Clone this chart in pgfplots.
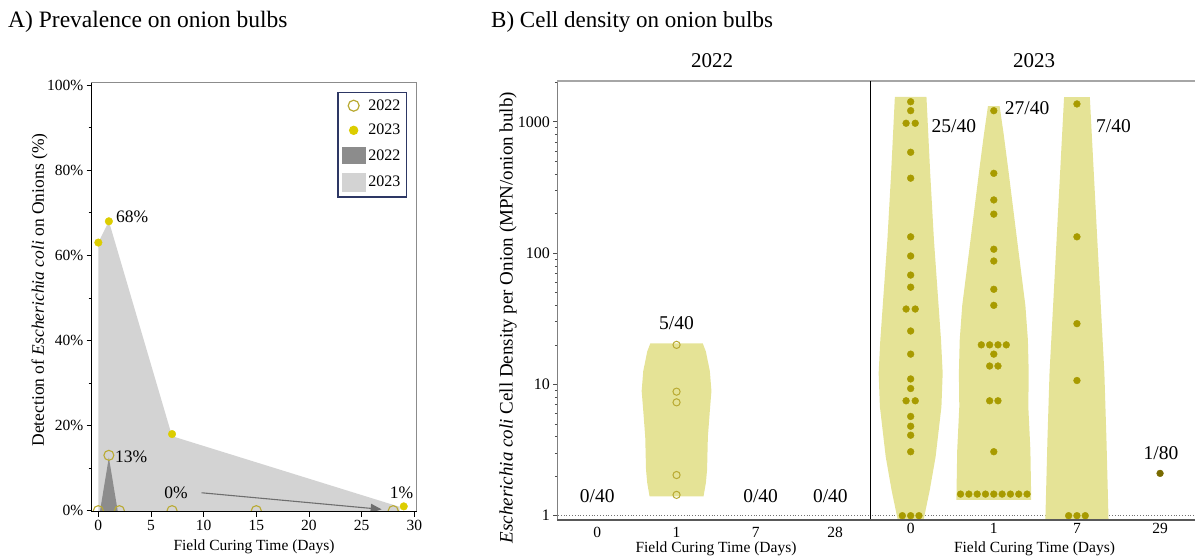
\documentclass[border=0pt]{standalone}
\usepackage{fontspec}
\setmainfont{Liberation Serif}
\usepackage{pgfplots}
\pgfplotsset{compat=1.18}
\usetikzlibrary{arrows.meta}

\definecolor{ptyellow}{RGB}{220,205,0}
\definecolor{ringgold}{RGB}{185,170,50}
\definecolor{areadark}{RGB}{140,140,140}
\definecolor{arealight}{RGB}{211,211,211}
\definecolor{arrowgray}{RGB}{110,110,110}
\definecolor{legendblue}{RGB}{45,55,100}
\definecolor{violin}{RGB}{229,227,150}
\definecolor{dotolive}{RGB}{168,155,0}
\definecolor{dotdark}{RGB}{120,106,0}
\definecolor{framegray}{RGB}{140,140,140}

\newcommand{\fsz}[1]{\fontsize{#1bp}{1.2\dimexpr#1bp\relax}\selectfont}

\begin{document}
\begin{tikzpicture}
\useasboundingbox (0,0) rectangle (1195bp,559bp);
\clip (0,0) rectangle (1195bp,559bp);

% ---------------- Panel A: prevalence ----------------
\begin{axis}[
  name=A, at={(91.7bp,47.3bp)}, anchor=south west,
  scale only axis, width=325bp, height=428.7bp,
  xmin=-0.63, xmax=30.23, ymin=-0.25, ymax=100.5,
  axis line style={draw=none},
  clip marker paths=true,
  tick align=outside, xtick pos=bottom, ytick pos=left,
  xtick={0,5,10,15,20,25,30}, xticklabels={0,5,10,15,20,25,30},
  ytick={0,20,40,60,80,100}, yticklabels={0\%,20\%,40\%,60\%,80\%,100\%},
  minor ytick={10,30,50,70,90},
  major tick length=5bp, minor tick length=3bp,
  every tick/.style={black, line width=0.6bp},
  tick label style={font=\fsz{15.5}},
  legend style={at={(0.970,0.979)}, anchor=north east, draw=legendblue,
    line width=1.3bp, fill=white, font=\fsz{16},
    inner xsep=4bp, inner ysep=5bp, row sep=8.5bp},
  legend cell align=left,
]
\addlegendimage{legend image code/.code={\draw[ringgold, line width=1.2bp] (11bp,0bp) circle (5.5bp);}}
\addlegendentry{2022}
\addlegendimage{legend image code/.code={\fill[ptyellow] (11bp,0bp) circle (4bp);}}
\addlegendentry{2023}
\addlegendimage{legend image code/.code={\fill[areadark] (0bp,-8bp) rectangle (23bp,8bp);}}
\addlegendentry{2022}
\addlegendimage{legend image code/.code={\fill[arealight] (0bp,-9bp) rectangle (23bp,9bp);}}
\addlegendentry{2023}
% 2023 prevalence envelope
\addplot[fill=arealight, draw=none, forget plot]
  coordinates {(0,-1) (0,63) (1,68) (7,17.5) (28.6,0.9) (28.6,-1) (0,-1)};
% 2022 prevalence envelope
\addplot[fill=areadark, draw=none, forget plot]
  coordinates {(0.1,-1) (1,12.5) (1.9,-1) (0.1,-1)};
\draw[arrowgray, line width=1.1bp, -{Triangle[length=11bp,width=9bp]}]
  (axis cs:9.8,4.2) -- (axis cs:26.9,0.3);
\addplot[only marks, mark=o, mark size=5bp, ringgold,
  mark options={line width=1.1bp}, forget plot]
  coordinates {(0,0) (1,13) (2,0) (7,0) (15,0) (28,0)};
\addplot[only marks, mark=*, mark size=3.8bp, ptyellow, forget plot]
  coordinates {(0,63) (1,68) (7,18) (29,1)};
\node[anchor=west, inner sep=0pt, font=\fsz{17.5}] at (axis cs:1.68,69.1) {68\%};
\node[anchor=west, inner sep=0pt, font=\fsz{17.5}] at (axis cs:1.58,12.7) {13\%};
\node[inner sep=0pt, font=\fsz{17.5}] at (axis cs:7.38,4.2) {0\%};
\node[inner sep=0pt, font=\fsz{17.5}] at (axis cs:28.8,4.3) {1\%};
\end{axis}
\draw[framegray, line width=1bp] (A.south west) rectangle (A.north east);
\draw[black, line width=0.8bp] (A.north west) -- (A.south west) -- (A.south east);

% ---------------- Panel B: 2022 ----------------
\begin{axis}[
  name=B1, at={(557.3bp,39bp)}, anchor=south west,
  scale only axis, width=312.7bp, height=439bp,
  xmin=-0.504, xmax=3.44, ymode=log, ymin=0.927, ymax=2045,
  axis line style={draw=none},
  tick align=outside, ytick pos=left, xtick pos=bottom,
  xtick={0,1,2,3}, xticklabels={0,1,7,28},
  major x tick style={draw=none},
  ytick={1,10,100,1000}, yticklabels={1,10,100,1000},
  minor ytick={2,3,4,5,6,7,8,9,20,30,40,50,60,70,80,90,200,300,400,500,600,700,800,900,2000},
  major tick length=4bp, minor tick length=2.5bp,
  every tick/.style={black!70, line width=0.6bp},
  yticklabel style={font=\fsz{16}},
  xticklabel style={font=\fsz{15.5}},
]
\draw[black!55, dotted, line width=0.8bp] (axis cs:-0.6,1) -- (axis cs:3.5,1);
\addplot[fill=violin, draw=none]
  coordinates {(0.66,1.40) (0.63,1.78) (0.615,2.24) (0.605,3.98) (0.58,6.31)
    (0.56,8.91) (0.58,12.6) (0.63,17.8) (0.67,20.56)
    (1.33,20.56) (1.37,17.8) (1.42,12.6) (1.44,8.91) (1.42,6.31)
    (1.395,3.98) (1.385,2.24) (1.37,1.78) (1.34,1.40) (0.66,1.40)};
\addplot[only marks, mark=o, mark size=3.6bp, ringgold, mark options={line width=1bp}]
  coordinates {(1,20) (1,8.8) (1,7.3) (1,2.04) (1,1.44)};
\node[font=\fsz{19.5}] at (axis cs:0,1.40) {0/40};
\node[font=\fsz{19.5}] at (axis cs:1,29.5) {5/40};
\node[font=\fsz{19.5}] at (axis cs:2.06,1.40) {0/40};
\node[font=\fsz{19.5}] at (axis cs:2.94,1.40) {0/40};
\end{axis}

% ---------------- Panel B: 2023 ----------------
\begin{axis}[
  name=B2, at={(870bp,39bp)}, anchor=south west,
  scale only axis, width=325bp, height=439bp,
  xmin=-0.489, xmax=3.42, ymode=log, ymin=0.927, ymax=2045,
  axis line style={draw=none},
  xtick pos=bottom,
  xtick={0,1,2,3}, xticklabels={0,1,7,29},
  major x tick style={draw=none},
  ymajorticks=false, yminorticks=false,
  xticklabel style={font=\fsz{15.5}},
]
\draw[black!55, dotted, line width=0.8bp] (axis cs:-0.6,1) -- (axis cs:3.5,1);
% day 0
\addplot[fill=violin, draw=none]
  coordinates {(-0.155,0.927) (-0.23,1.57) (-0.30,2.81) (-0.37,6.76) (-0.385,12.16)
    (-0.365,21.8) (-0.28,125.9) (-0.235,405.5) (-0.19,1549)
    (0.19,1549) (0.235,405.5) (0.28,125.9) (0.365,21.8) (0.385,12.16)
    (0.37,6.76) (0.30,2.81) (0.23,1.57) (0.155,0.927) (-0.155,0.927)};
% day 1
\addplot[fill=violin, draw=none]
  coordinates {(0.55,1.318) (0.56,3.162) (0.585,6.76) (0.58,12.16) (0.59,21.8)
    (0.62,39.8) (0.72,125.9) (0.82,405.5) (0.88,794) (0.93,1318)
    (1.07,1318) (1.12,794) (1.18,405.5) (1.28,125.9) (1.38,39.8)
    (1.41,21.8) (1.42,12.16) (1.415,6.76) (1.44,3.162) (1.45,1.318) (0.55,1.318)};
% day 7
\addplot[fill=violin, draw=none]
  coordinates {(1.62,0.927) (1.645,3.776) (1.67,12.16) (1.755,125.9) (1.845,1538)
    (2.155,1538) (2.245,125.9) (2.33,12.16) (2.355,3.776) (2.38,0.927) (1.62,0.927)};
% individual positive bulbs
\addplot[only marks, mark=*, mark size=3.4bp, dotolive]
  coordinates {
    (0,1422) (0,1216) (-0.055,975) (0.055,975) (0,586) (0,372) (0,133) (0,95)
    (0,68) (0,55) (-0.055,37.5) (0.055,37.5) (0,25.5) (0,17) (0,11) (0,9.3)
    (-0.055,7.5) (0.055,7.5) (0,5.7) (0,4.8) (0,4.1) (0,3.07)
    (-0.1,1) (0,1) (0.1,1)
    (1,1215) (1,405) (1,254) (1,198) (1,107) (1,87) (1,53) (1,40)
    (0.85,20) (0.95,20) (1.05,20) (1.15,20) (1,17) (0.95,13.8) (1.05,13.8)
    (0.95,7.5) (1.05,7.5) (1,3.07)
    (0.6,1.46) (0.7,1.46) (0.8,1.46) (0.9,1.46) (1,1.46) (1.1,1.46) (1.2,1.46) (1.3,1.46) (1.4,1.46)
    (2,1367) (2,133) (2,29) (2,10.7) (1.9,1) (2,1) (2.1,1)};
\addplot[only marks, mark=*, mark size=3.4bp, dotdark] coordinates {(3,2.1)};
\node[font=\fsz{19.5}] at (axis cs:0.52,929) {25/40};
\node[font=\fsz{19.5}] at (axis cs:1.40,1268) {27/40};
\node[font=\fsz{19.5}] at (axis cs:2.44,929) {7/40};
\node[font=\fsz{19.5}] at (axis cs:3.01,2.99) {1/80};
\end{axis}

% panel B frame
\draw[black!50, line width=1bp] (557.3bp,39bp) -- (557.3bp,478bp);
\draw[black!35, line width=1.2bp] (557.3bp,478bp) -- (1195bp,478bp);
\draw[black, line width=0.9bp] (870bp,39bp) -- (870bp,478bp);
\draw[black!65, line width=2bp] (557.3bp,39bp) -- (1195bp,39bp);

% titles and axis labels
\node[anchor=base west, inner sep=0pt, font=\fsz{23.5}] at (8bp,531bp) {A) Prevalence on onion bulbs};
\node[anchor=base west, inner sep=0pt, font=\fsz{23}] at (491bp,531bp) {B) Cell density on onion bulbs};
\node[anchor=base, inner sep=0pt, font=\fsz{21}] at (712bp,491bp) {2022};
\node[anchor=base, inner sep=0pt, font=\fsz{21}] at (1034bp,491bp) {2023};
\node[rotate=90, inner sep=0pt, font=\fsz{17.5}] at (39.5bp,269bp)
  {Detection of \textit{Escherichia coli} on Onions (\%)};
\node[rotate=90, inner sep=0pt, font=\fsz{19}] at (508bp,241.5bp)
  {\textit{Escherichia coli} Cell Density per Onion (MPN/onion bulb)};
\node[anchor=base, inner sep=0pt, font=\fsz{15.5}] at (254bp,9bp) {Field Curing Time (Days)};
\node[anchor=base, inner sep=0pt, font=\fsz{15.5}] at (716bp,7bp) {Field Curing Time (Days)};
\node[anchor=base, inner sep=0pt, font=\fsz{15.5}] at (1034.5bp,7bp) {Field Curing Time (Days)};
\end{tikzpicture}
\end{document}
